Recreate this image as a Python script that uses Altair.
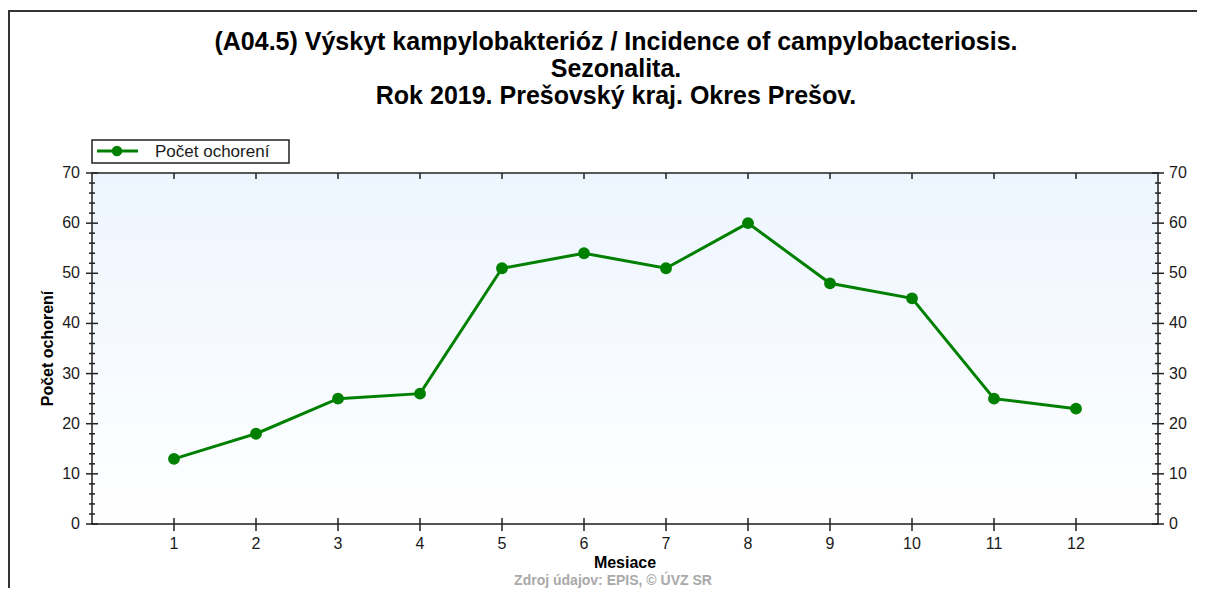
import altair as alt
import pandas as pd

# ---- data ----
months = list(range(1, 13))
cases = [13, 18, 25, 26, 51, 54, 51, 60, 48, 45, 25, 23]
y_tick_values = list(range(0, 71, 2))
y_label_values = list(range(0, 71, 10))
x_label_values = list(range(1, 13))
title_lines = [
    "(A04.5) Výskyt kampylobakterióz / Incidence of campylobacteriosis.",
    "Sezonalita.",
    "Rok 2019. Prešovský kraj. Okres Prešov.",
]
series_name = "Počet ochorení"
x_title = "Mesiace"
y_title = "Počet ochorení"
source_text = "Zdroj údajov: EPIS, © ÚVZ SR"

W, H = 1066, 351
FONT = "Liberation Sans"
GREEN = "#008000"
TXT = "#1a1a1a"

xs = alt.Scale(domain=[0, 13], nice=False, zero=False)
ys = alt.Scale(domain=[0, 70], nice=False)

df = pd.DataFrame({"m": months, "c": cases})
df_yt = pd.DataFrame({"v": y_tick_values, "major": [v % 10 == 0 for v in y_tick_values]})
df_yl = pd.DataFrame({"v": y_label_values})
df_xl = pd.DataFrame({"v": x_label_values})
one = pd.DataFrame({"a": [0]})

# background gradient
bg = alt.Chart(one).mark_rect(
    fill={"gradient": "linear", "x1": 0, "y1": 0, "x2": 0, "y2": 1,
          "stops": [{"offset": 0, "color": "#edf5fe"}, {"offset": 1, "color": "#ffffff"}]}
).encode(x=alt.value(0), x2=alt.value(W), y=alt.value(0), y2=alt.value(H))

# outer frame (left + top)
frame_left = alt.Chart(one).mark_rule(color="#333333", strokeWidth=2).encode(
    x=alt.value(-83), y=alt.value(-163), y2=alt.value(H + 70))
frame_top = alt.Chart(one).mark_rule(color="#333333", strokeWidth=2).encode(
    x=alt.value(-84), x2=alt.value(W + 45), y=alt.value(-162))

# plot box
box = alt.Chart(one).mark_rect(filled=False, color="#222222", strokeWidth=1.5).encode(
    x=alt.value(0), x2=alt.value(W), y=alt.value(0), y2=alt.value(H))

# y ticks left/right
yt_base = alt.Chart(df_yt)
yt_left_major = yt_base.transform_filter("datum.major").mark_rule(color="#222222", strokeWidth=1.5).encode(
    y=alt.Y("v:Q", scale=ys, axis=None), x=alt.value(-6), x2=alt.value(6))
yt_left_minor = yt_base.transform_filter("!datum.major").mark_rule(color="#222222", strokeWidth=1.5).encode(
    y=alt.Y("v:Q", scale=ys, axis=None), x=alt.value(-3), x2=alt.value(3))
yt_right_major = yt_base.transform_filter("datum.major").mark_rule(color="#222222", strokeWidth=1.5).encode(
    y=alt.Y("v:Q", scale=ys, axis=None), x=alt.value(W - 6), x2=alt.value(W + 6))
yt_right_minor = yt_base.transform_filter("!datum.major").mark_rule(color="#222222", strokeWidth=1.5).encode(
    y=alt.Y("v:Q", scale=ys, axis=None), x=alt.value(W - 3), x2=alt.value(W + 3))

# x ticks bottom/top
xt_bottom = alt.Chart(df_xl).mark_rule(color="#222222", strokeWidth=1.5).encode(
    x=alt.X("v:Q", scale=xs, axis=None), y=alt.value(H - 6), y2=alt.value(H + 7))
xt_top = alt.Chart(df_xl).mark_rule(color="#222222", strokeWidth=1.5).encode(
    x=alt.X("v:Q", scale=xs, axis=None), y=alt.value(0), y2=alt.value(6))

# tick labels
yl_left = alt.Chart(df_yl).mark_text(align="right", baseline="middle", fontSize=16, font=FONT, color=TXT).encode(
    y=alt.Y("v:Q", scale=ys, axis=None), x=alt.value(-12), text="v:Q")
yl_right = alt.Chart(df_yl).mark_text(align="left", baseline="middle", fontSize=16, font=FONT, color=TXT).encode(
    y=alt.Y("v:Q", scale=ys, axis=None), x=alt.value(W + 11), text="v:Q")
xl = alt.Chart(df_xl).mark_text(align="center", baseline="alphabetic", fontSize=16, font=FONT, color=TXT).encode(
    x=alt.X("v:Q", scale=xs, axis=None), y=alt.value(H + 25), text="v:Q")

# axis titles
xtitle = alt.Chart(pd.DataFrame({"t": [x_title]})).mark_text(
    align="center", baseline="alphabetic", fontSize=16, fontWeight="bold", font=FONT, color="#000000"
).encode(x=alt.value(W / 2), y=alt.value(H + 44), text="t:N")
ytitle = alt.Chart(pd.DataFrame({"t": [y_title]})).mark_text(
    align="center", baseline="alphabetic", angle=270, fontSize=16, fontWeight="bold", font=FONT, color="#000000"
).encode(x=alt.value(-39), y=alt.value(H / 2), text="t:N")

# main title lines
title_layers = []
for line_text, yb in zip(title_lines, [-123, -96, -69]):
    title_layers.append(
        alt.Chart(pd.DataFrame({"t": [line_text]})).mark_text(
            align="center", baseline="alphabetic", fontSize=25, fontWeight="bold", font=FONT, color="#000000"
        ).encode(x=alt.value(524), y=alt.value(yb), text="t:N")
    )

# source footer
footer = alt.Chart(pd.DataFrame({"t": [source_text]})).mark_text(
    align="center", baseline="alphabetic", fontSize=14, fontWeight="bold", font=FONT, color="#a9a9a9"
).encode(x=alt.value(521), y=alt.value(412), text="t:N")

# legend
leg_box = alt.Chart(one).mark_rect(fill="#ffffff", stroke="#222222", strokeWidth=1.5).encode(
    x=alt.value(0), x2=alt.value(197), y=alt.value(-33), y2=alt.value(-10))
leg_line = alt.Chart(one).mark_rule(color=GREEN, strokeWidth=3).encode(
    x=alt.value(5), x2=alt.value(46), y=alt.value(-22))
leg_pt = alt.Chart(one).mark_point(filled=True, shape="circle", size=110, color=GREEN, opacity=1).encode(
    x=alt.value(25), y=alt.value(-22))
leg_txt = alt.Chart(pd.DataFrame({"t": [series_name]})).mark_text(
    align="left", baseline="middle", fontSize=17, font=FONT, color=TXT
).encode(x=alt.value(63), y=alt.value(-21), text="t:N")

# data series
line = alt.Chart(df).mark_line(color=GREEN, strokeWidth=3).encode(
    x=alt.X("m:Q", scale=xs, axis=None), y=alt.Y("c:Q", scale=ys, axis=None))
pts = alt.Chart(df).mark_point(filled=True, shape="circle", size=140, color=GREEN, opacity=1).encode(
    x=alt.X("m:Q", scale=xs, axis=None), y=alt.Y("c:Q", scale=ys, axis=None))

chart = alt.layer(
    bg, frame_left, frame_top,
    yt_left_major, yt_left_minor, yt_right_major, yt_right_minor,
    xt_bottom, xt_top, box,
    yl_left, yl_right, xl, xtitle, ytitle, *title_layers, footer,
    leg_box, leg_line, leg_pt, leg_txt,
    line, pts,
).properties(
    width=W, height=H,
    autosize=alt.AutoSizeParams(type="none"),
    padding={"left": 84, "top": 165, "right": 39, "bottom": 64},
    background="#ffffff",
).configure_view(strokeWidth=0).configure(font=FONT)

chart.save("out.html", embed_options={"renderer": "svg", "actions": False})
